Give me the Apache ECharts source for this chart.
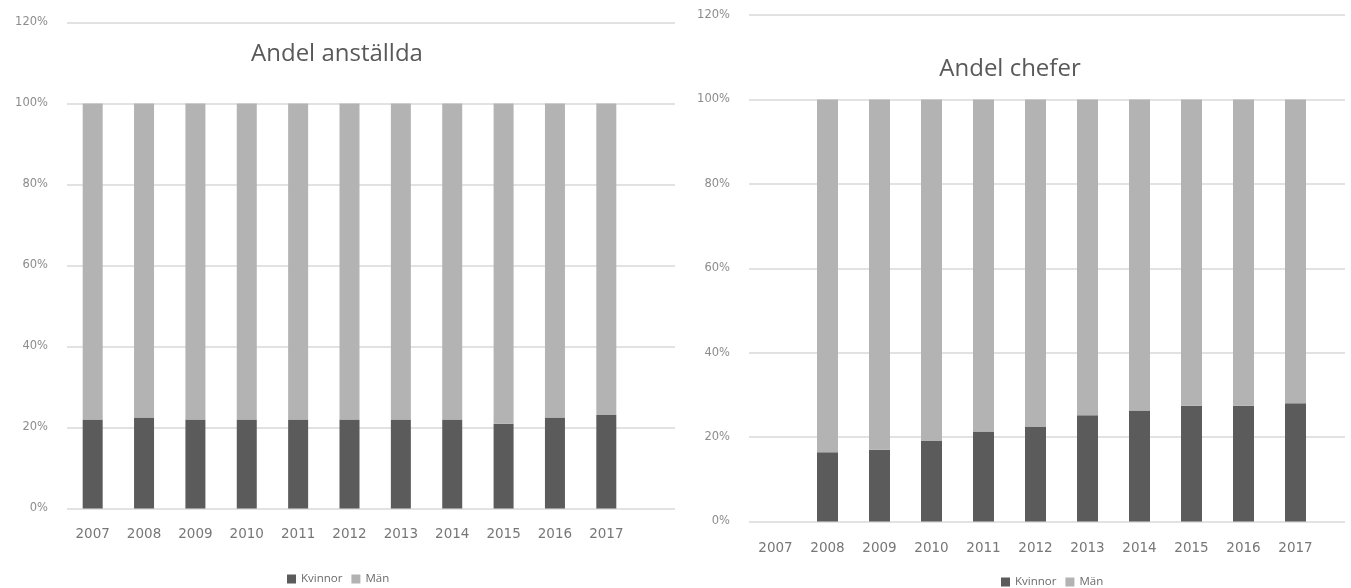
<!DOCTYPE html>
<html>
<head>
<meta charset="utf-8">
<script src="https://cdn.jsdelivr.net/npm/echarts@6/dist/echarts.min.js"></script>
<style>
  html, body { margin: 0; padding: 0; background: #fff; }
  #chart { width: 1351px; height: 588px; }
</style>
</head>
<body>
<div id="chart"></div>
<script>
// data (percent)
const years = ['2007', '2008', '2009', '2010', '2011', '2012', '2013', '2014', '2015', '2016', '2017'];
const anstKvinnor = [22.0, 22.5, 22.0, 22.0, 22.0, 22.0, 22.0, 22.0, 20.9, 22.5, 23.1];
const anstMan = [78.0, 77.5, 78.0, 78.0, 78.0, 78.0, 78.0, 78.0, 79.1, 77.5, 76.9];
const chefKvinnor = [null, 16.4, 17.0, 19.1, 21.3, 22.4, 25.2, 26.3, 27.4, 27.4, 28.0];
const chefMan = [null, 83.6, 83.0, 80.9, 78.7, 77.6, 74.8, 73.7, 72.6, 72.6, 72.0];
const yMax = 120;
const yStep = 20;

const font = 'Open Sans';
const dark = '#5b5b5b';
const light = '#b3b3b3';
const gridColor = '#d9d9d9';

let myChart = echarts.init(document.getElementById('chart'));

// gridline axis (wide) + bar axis (narrower), same scale
function lineAxis(gridIndex) {
  return {
    gridIndex: gridIndex,
    type: 'value',
    min: 0,
    max: yMax,
    interval: yStep,
    axisLine: { show: false },
    axisTick: { show: false },
    axisLabel: {
      margin: 19,
      fontFamily: 'DejaVu Sans',
      fontSize: 11.5,
      color: '#8c8c8c',
      formatter: '{value}%'
    },
    splitLine: { lineStyle: { color: gridColor, width: 1.5 } }
  };
}
function barYAxis(gridIndex) {
  return { gridIndex: gridIndex, type: 'value', min: 0, max: yMax, interval: yStep, show: false };
}
function catAxis(gridIndex, margin) {
  return {
    gridIndex: gridIndex,
    type: 'category',
    data: years,
    axisLine: { show: false },
    axisTick: { show: false },
    axisLabel: { margin: margin, fontFamily: 'DejaVu Sans', fontSize: 13.5, color: '#777' }
  };
}
function stack(name, data, color, idx, w, stackName) {
  return {
    name: name,
    type: 'bar',
    stack: stackName,
    xAxisIndex: idx,
    yAxisIndex: idx,
    barWidth: w,
    itemStyle: { color: color },
    data: data
  };
}
function legend(left, top) {
  return {
    left: left,
    top: top,
    icon: 'rect',
    itemWidth: 9,
    itemHeight: 9,
    itemGap: 9,
    textStyle: { fontFamily: font, fontSize: 11.5, color: '#6a6a6a' },
    data: ['Kvinnor', 'Män']
  };
}

const option = {
  animation: false,
  title: [
    { text: 'Andel anställda', left: 332, top: 37, textAlign: 'center',
      textStyle: { fontFamily: font, fontSize: 24, fontWeight: 'normal', color: '#595959' } },
    { text: 'Andel chefer', left: 1005, top: 52, textAlign: 'center',
      textStyle: { fontFamily: font, fontSize: 24, fontWeight: 'normal', color: '#595959' } }
  ],
  legend: [legend(282, 568), legend(996, 571)],
  grid: [
    { left: 67, right: 676, top: 22.5, bottom: 79.5 },
    { left: 67, width: 565, top: 22.5, bottom: 79.5 },
    { left: 749, right: 6, top: 15, bottom: 66.5 },
    { left: 749.5, width: 572, top: 15, bottom: 66.5 }
  ],
  xAxis: [
    { gridIndex: 0, type: 'value', show: false },
    catAxis(1, 19),
    { gridIndex: 2, type: 'value', show: false },
    catAxis(3, 20)
  ],
  yAxis: [lineAxis(0), barYAxis(1), lineAxis(2), barYAxis(3)],
  series: [
    stack('Kvinnor', anstKvinnor, dark, 1, 20, 'a'),
    stack('Män', anstMan, light, 1, 20, 'a'),
    stack('Kvinnor', chefKvinnor, dark, 3, 21, 'c'),
    stack('Män', chefMan, light, 3, 21, 'c')
  ]
};

myChart.setOption(option);
</script>
</body>
</html>
